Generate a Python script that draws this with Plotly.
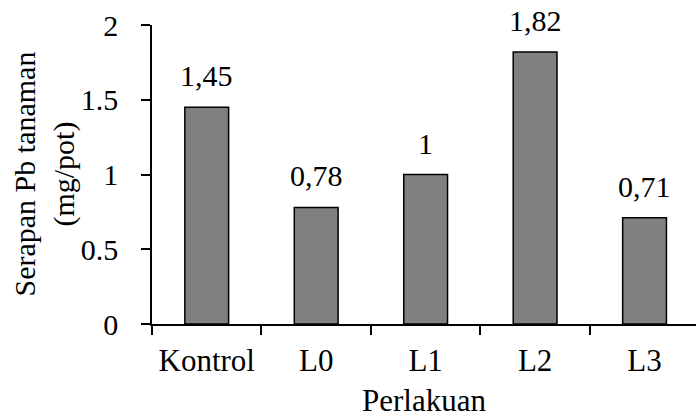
import plotly.graph_objects as go

categories = ["Kontrol", "L0", "L1", "L2", "L3"]
values = [1.45, 0.78, 1.00, 1.82, 0.71]
value_labels = ["1,45", "0,78", "1", "1,82", "0,71"]
y_ticks = [0, 0.5, 1, 1.5, 2]
y_tick_labels = ["0", "0.5", "1", "1.5", "2"]
x_title = "Perlakuan"
y_title = "Serapan Pb tanaman<br>(mg/pot)"

FONT = "Liberation Serif"

fig = go.Figure()
fig.add_trace(go.Bar(
    x=categories, y=values,
    marker=dict(color="#808080", line=dict(color="black", width=1.5)),
    width=0.4,
    hoverinfo="skip",
))

for c, v, t in zip(categories, values, value_labels):
    fig.add_annotation(x=c, y=v, text=t, showarrow=False,
                       yanchor="bottom", yshift=13,
                       font=dict(family=FONT, size=30, color="black"))

fig.add_annotation(xref="paper", yref="paper", x=0.5, y=0, text=x_title,
                   showarrow=False, xanchor="center", yanchor="bottom", yshift=-95,
                   borderpad=0,
                   font=dict(family=FONT, size=31, color="black"))
fig.add_annotation(xref="paper", yref="paper", x=0, y=0.5, text=y_title,
                   showarrow=False, xanchor="center", yanchor="middle", xshift=-108,
                   textangle=-90,
                   font=dict(family=FONT, size=30, color="black"))

fig.update_layout(
    width=696, height=419,
    margin=dict(l=152, r=0, t=25, b=95),
    paper_bgcolor="white", plot_bgcolor="white",
    font=dict(family=FONT, size=30, color="black"),
    showlegend=False,
    xaxis=dict(
        type="category", range=[-0.5, 4.47], automargin=False,
        showline=True, linecolor="black", linewidth=1.5,
        ticks="outside", tickson="boundaries", ticklen=9, tickwidth=1.5, tickcolor="black",
        showgrid=False, zeroline=False, ticklabelstandoff=8,
        tickfont=dict(family=FONT, size=31),
    ),
    yaxis=dict(
        range=[0, 2], tickvals=y_ticks, ticktext=y_tick_labels, automargin=False,
        showline=True, linecolor="black", linewidth=1.5,
        ticks="outside", ticklen=9, tickwidth=1.5, tickcolor="black",
        showgrid=False, zeroline=False, ticklabelstandoff=17,
        tickfont=dict(family=FONT, size=30),
    ),
)

fig.write_html("out.html", config={"displayModeBar": False},
               post_script="document.body.style.margin='0';")
